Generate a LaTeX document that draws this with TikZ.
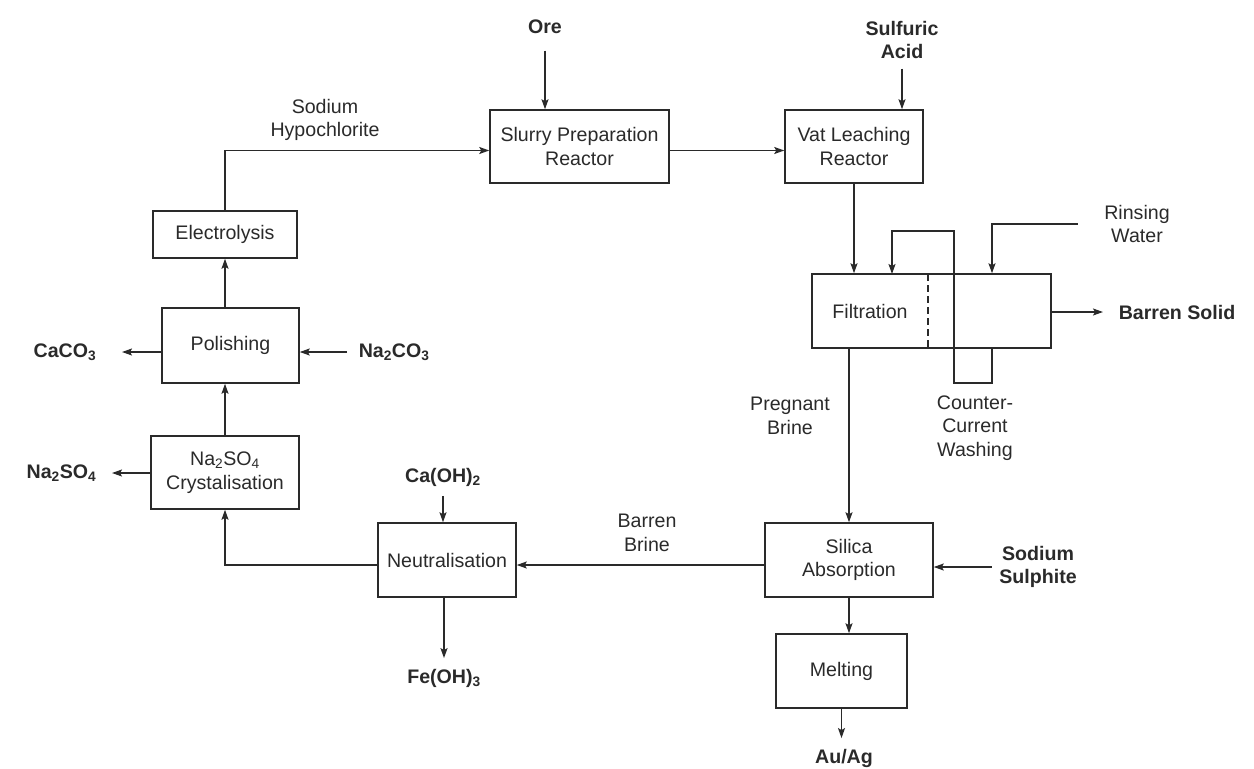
\documentclass[tikz,border=0pt]{standalone}
\usepackage{fontspec}
\setmainfont{Liberation Sans}
\usepackage{tikz}
\usetikzlibrary{arrows.meta}
\definecolor{ink}{HTML}{2A2A2A}

\begin{document}
\begin{tikzpicture}[->,>={Stealth[length=10pt,width=7pt,inset=2pt]},x=1pt,y=-1pt,
                    line width=1.5pt,color=ink,font=\fontsize{19.6}{23.5}\selectfont]
\tikzstyle{unit}=[draw,rectangle,align=center,inner sep=0pt]
\tikzstyle{chem}=[align=center,inner sep=0pt,font=\fontsize{19.6}{23.5}\selectfont\bfseries]
\tikzstyle{stream}=[align=center,inner sep=0pt]
\useasboundingbox (0,0) rectangle (1254,769);

% process units
\node[unit,minimum width=179pt,minimum height=73pt] (slurry) at (579.5,146.5) {Slurry Preparation\\Reactor};
\node[unit,minimum width=138pt,minimum height=73pt] (vat) at (854,146.5) {Vat Leaching\\Reactor};
\node[unit,minimum width=239pt,minimum height=74pt] (filt) at (931.5,311) {};
\node (filtlbl) at (870,311) {Filtration};
\node[unit,minimum width=168pt,minimum height=74pt] (silica) at (849,560) {Silica\\Absorption};
\node[unit,minimum width=131pt,minimum height=74pt] (melt) at (841.5,671) {Melting};
\node[unit,minimum width=138pt,minimum height=74pt] (neut) at (447,560) {Neutralisation};
\node[unit,minimum width=148pt,minimum height=73pt] (cryst) at (225,472.5) {Na\textsubscript{2}SO\textsubscript{4}\\Crystalisation};
\node[unit,minimum width=137pt,minimum height=75pt] (polish) at (230.5,345.5) {Polishing};
\node[unit,minimum width=144pt,minimum height=47pt] (elec) at (225,234.5) {Electrolysis};

% feeds and products
\node[chem] (ore) at (545,27) {Ore};
\node[chem] (acid) at (902,40) {Sulfuric\\Acid};
\node[chem] (caoh) at (443,477) {Ca(OH)\textsubscript{2}};
\node[chem] (feoh) at (444,678) {Fe(OH)\textsubscript{3}};
\node[chem] (auag) at (844,758) {Au/Ag};
\node[chem,anchor=east] (caco) at (97,352) {CaCO\textsubscript{3}};
\node[chem,anchor=east] (naso) at (97,473) {Na\textsubscript{2}SO\textsubscript{4}};
\node[chem,anchor=west] (naco) at (358,352) {Na\textsubscript{2}CO\textsubscript{3}};
\node[chem] (sulph) at (1038,567) {Sodium\\Sulphite};
\node[chem,anchor=west] (solid) at (1118,312) {Barren Solid};

% stream labels
\node[stream] (hypo) at (325,120) {Sodium\\Hypochlorite};
\node[stream] (rinse) at (1137,224) {Rinsing\\Water};
\node[stream] (preg) at (790,416) {Pregnant\\Brine};
\node[stream] (ccw) at (975,428) {Counter-\\Current\\Washing};
\node[stream] (barren) at (647,533) {Barren\\Brine};

% main line
\draw[shorten <=16pt] (ore.south) -- (ore.south |- slurry.north);
\draw[shorten <=9pt] (acid.south) -- (acid.south |- vat.north);
\draw ([yshift=-4pt]slurry.east) -- ([yshift=-4pt]vat.west);
\draw (vat.south) -- (vat.south |- filt.north);
\draw[shorten >=15pt] (solid.west -| filt.east) -- (solid.west);
\draw (silica.north |- filt.south) -- (silica.north);
\draw[shorten <=7pt] (sulph.west) -- (sulph.west -| silica.east);
\draw (silica.south) -- (silica.south |- melt.north);
\draw[shorten >=10pt] (melt.south) -- (melt.south |- auag.north);
\draw ([yshift=-5pt]silica.west) -- ([yshift=-5pt]neut.east);
\draw[shorten <=9pt] (caoh.south) -- (caoh.south |- neut.north);
\draw[shorten >=10pt] (feoh.north |- neut.south) -- (feoh.north);

% brine recycle
\draw ([yshift=-5pt]neut.west) -| (cryst.south);
\draw[shorten >=15pt] (naso.east -| cryst.west) -- (naso.east);
\draw (cryst.north) -- (cryst.north |- polish.south);
\draw[shorten >=25pt] (caco.east -| polish.west) -- (caco.east);
\draw[shorten <=11pt] (naco.west) -- (naco.west -| polish.east);
\draw (elec.south |- polish.north) -- (elec.south);
\draw (elec.north) |- ([yshift=-4pt]slurry.west);

% washing loop
\coordinate (ret) at (992,383);
\coordinate (wtop) at (954,231);
\coordinate (wdrop) at (892,274);
\draw[shorten <=26pt] (rinse.west) -| (ret |- filt.north);
\draw (ret |- filt.south) -- (ret) -| (wtop) -| (wdrop);
\draw[-,dash pattern=on 7pt off 4pt] (928,274) -- (928,348);
\end{tikzpicture}
\end{document}
